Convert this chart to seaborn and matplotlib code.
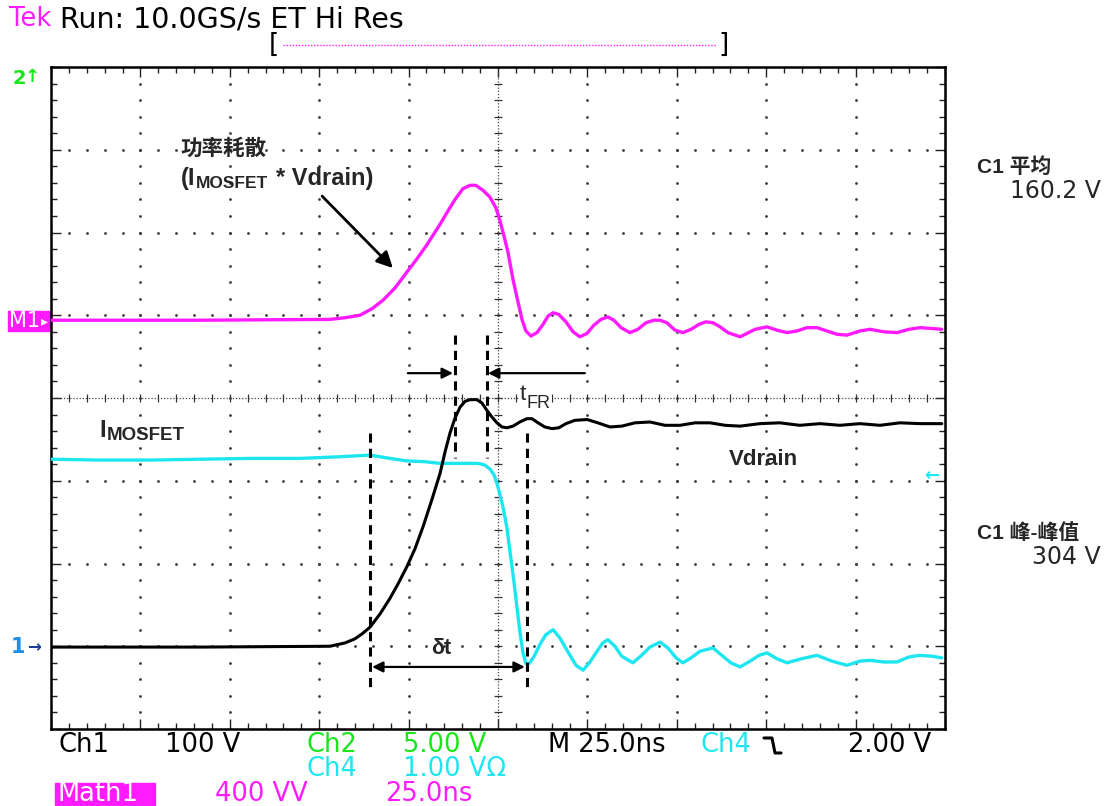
import numpy as np
import matplotlib
matplotlib.use("Agg")
import matplotlib.pyplot as plt
from matplotlib.lines import Line2D
from matplotlib.patches import Rectangle
import seaborn as sns

# ---------------- data (time in ns, 25 ns/div; amplitude in screen divisions, 0 = bottom) -------------
power_t = [0, 41.7, 78.0, 82.2, 86.4, 89.8, 92.8, 96.2, 99.5, 102.3, 105.1, 108.8, 111.0, 113.0,
           115.2, 117.2, 118.8, 120.8, 122.7, 124.4, 125.5, 126.6, 127.8, 129.2, 130.6, 131.7,
           132.8, 134.2, 135.9, 137.6, 139.0, 140.4, 142.0, 144.0, 146.0, 147.9, 149.9, 151.8,
           153.8, 155.7, 157.4, 159.4, 161.9, 164.1, 166.4, 168.6, 170.3, 172.2, 174.5, 176.7,
           179.0, 181.2, 183.1, 185.1, 187.1, 189.3, 192.7, 194.6, 196.9, 200.2, 203.0, 205.8,
           208.6, 211.4, 214.2, 217.0, 219.8, 222.6, 226.2, 229.0, 232.9, 236.6, 239.9, 243.0,
           246.3, 249.1]
power_v = [4.94, 4.94, 4.95, 4.97, 5.00, 5.08, 5.18, 5.33, 5.52, 5.68, 5.85, 6.10, 6.26, 6.40,
           6.53, 6.57, 6.57, 6.51, 6.43, 6.30, 6.15, 5.97, 5.76, 5.43, 5.16, 4.95,
           4.81, 4.75, 4.79, 4.89, 4.99, 5.03, 5.01, 4.92, 4.80, 4.74, 4.78, 4.88,
           4.95, 4.98, 4.94, 4.85, 4.79, 4.83, 4.91, 4.94, 4.94, 4.91, 4.82, 4.79,
           4.83, 4.89, 4.92, 4.91, 4.86, 4.79, 4.74, 4.78, 4.83, 4.86, 4.82, 4.79,
           4.81, 4.85, 4.85, 4.81, 4.77, 4.76, 4.81, 4.83, 4.80, 4.79, 4.83, 4.85,
           4.84, 4.83]

vdrain_t = [0, 41.7, 78.0, 82.2, 85.0, 87.0, 89.2, 92.0, 94.8, 97.0, 99.5, 101.8, 104.0, 106.5,
            108.8, 110.2, 111.6, 113.0, 114.4, 115.8, 117.2, 119.1, 120.5, 121.9, 123.3, 124.7,
            126.1, 127.5, 129.2, 131.1, 133.1, 134.5, 136.2, 138.1, 140.1, 142.0, 144.0, 146.5,
            149.9, 152.9, 156.3, 159.6, 163.3, 167.5, 171.7, 175.9, 180.1, 184.3, 188.5, 192.7,
            198.2, 203.8, 209.4, 215.0, 220.6, 226.2, 231.8, 237.4, 243.0, 249.1]
vdrain_v = [0.99, 0.99, 1.00, 1.04, 1.09, 1.15, 1.23, 1.39, 1.58, 1.75, 1.96, 2.18, 2.44, 2.77,
            3.09, 3.35, 3.58, 3.76, 3.89, 3.96, 3.98, 3.98, 3.94, 3.85, 3.77, 3.70,
            3.65, 3.64, 3.66, 3.71, 3.75, 3.75, 3.70, 3.65, 3.63, 3.64, 3.69, 3.73,
            3.74, 3.70, 3.65, 3.66, 3.70, 3.71, 3.67, 3.67, 3.70, 3.70, 3.67, 3.66,
            3.69, 3.70, 3.67, 3.69, 3.67, 3.69, 3.67, 3.70, 3.69, 3.69]

imos_t = [0, 13.7, 27.7, 41.7, 55.6, 69.6, 80.8, 89.2, 94.8, 99.5, 104.6, 108.8, 114.4, 119.4,
          121.3, 122.8, 123.9, 124.7, 125.5, 126.4, 127.5, 128.3, 129.4, 130.3, 131.1, 132.0,
          132.8, 133.7, 135.0, 136.7, 138.4, 140.4, 142.3, 144.6, 146.8, 148.8, 150.7, 152.7,
          154.3, 155.7, 157.7, 159.6, 162.7, 164.9, 167.5, 170.3, 172.5, 174.8, 176.7, 179.0,
          181.5, 185.1, 187.6, 190.1, 192.7, 195.5, 198.0, 200.2, 203.0, 205.8, 210.0, 214.2,
          218.4, 222.6, 226.2, 229.0, 232.9, 236.6, 239.9, 243.0, 246.3, 249.1]
imos_v = [3.26, 3.25, 3.25, 3.26, 3.27, 3.27, 3.29, 3.31, 3.27, 3.24, 3.23, 3.21, 3.21, 3.21,
          3.19, 3.14, 3.07, 2.97, 2.84, 2.68, 2.43, 2.16, 1.80, 1.47, 1.18, 0.92,
          0.79, 0.79, 0.87, 1.02, 1.14, 1.20, 1.10, 0.93, 0.77, 0.71, 0.81, 0.94,
          1.04, 1.08, 1.00, 0.88, 0.80, 0.88, 0.99, 1.05, 0.98, 0.86, 0.80, 0.86,
          0.94, 0.98, 0.89, 0.80, 0.75, 0.82, 0.89, 0.92, 0.85, 0.80, 0.85, 0.89,
          0.82, 0.77, 0.82, 0.83, 0.81, 0.81, 0.87, 0.89, 0.88, 0.86]

header_tek = "Tek"
header_run = "Run: 10.0GS/s ET Hi Res"
footer_row1 = [("Ch1", "black"), ("100 V", "black"), ("Ch2", "green"), ("5.00 V", "green"),
               ("M 25.0ns", "black"), ("Ch4", "cyan"), ("2.00 V", "black")]
footer_row2 = [("Ch4", "cyan"), ("1.00 VΩ", "cyan")]
footer_row3 = [("400 VV", "magenta"), ("25.0ns", "magenta")]
meas_labels = ["C1 平均", "C1 峰-峰值"]
meas_values = ["160.2 V", "304 V"]

MAG = "#ff1aff"
CYAN = "#1ee6f0"
GREEN = "#19e619"
colors = {"black": "black", "cyan": CYAN, "green": GREEN, "magenta": MAG}

# ---------------- figure ----------------
sns.set_style("white")
plt.rcParams['font.family'] = ['DejaVu Sans', 'Noto Sans CJK SC']

W, H = 1106, 806
fig = plt.figure(figsize=(W / 100, H / 100), dpi=100)
fig.patch.set_facecolor("white")
L, R, T, B = 51, 945, 67, 729
ax = fig.add_axes([L / W, 1 - B / H, (R - L) / W, (B - T) / H])
ax.set_facecolor("white")
ax.set_xlim(0, 250)
ax.set_ylim(0, 8)


def fp(px, py):
    return px / W, 1 - py / H


# graticule
xs_minor = np.arange(0, 250.01, 5)
ys_minor = np.arange(0, 8.001, 0.2)
dot = dict(ls="none", marker="o", ms=2.0, mew=0, color="#3a3a3a", zorder=1)
for k in range(1, 10):
    if k == 5:
        continue
    ax.plot(np.full_like(ys_minor, k * 25.0), ys_minor, **dot)
for j in range(1, 8):
    if j == 4:
        continue
    ax.plot(xs_minor, np.full_like(xs_minor, float(j)), **dot)
ax.axvline(125, ls=(0, (1, 1.5)), lw=0.9, color="#444444", zorder=1)
ax.axhline(4, ls=(0, (1, 1.5)), lw=0.9, color="#444444", zorder=1)
ax.plot(np.full_like(ys_minor, 125.0), ys_minor, ls="none", marker="_", ms=6, mew=0.9, color="#333333", zorder=1)
ax.plot(xs_minor, np.full_like(xs_minor, 4.0), ls="none", marker="|", ms=6, mew=0.9, color="#333333", zorder=1)

ax.set_xticks(np.arange(0, 251, 25))
ax.set_xticks(xs_minor, minor=True)
ax.set_yticks(np.arange(0, 9, 1))
ax.set_yticks(ys_minor, minor=True)
ax.tick_params(which="both", direction="in", top=True, right=True, bottom=True, left=True,
               labelbottom=False, labelleft=False, color="#222222")
ax.tick_params(which="major", length=7, width=1.0)
ax.tick_params(which="minor", length=4, width=1.0)
for s in ax.spines.values():
    s.set_linewidth(1.8)
    s.set_color("black")
    s.set_visible(True)

# traces
sns.lineplot(x=imos_t, y=imos_v, color=CYAN, lw=2.4, ax=ax, sort=False, estimator=None, zorder=3)
sns.lineplot(x=vdrain_t, y=vdrain_v, color="black", lw=2.2, ax=ax, sort=False, estimator=None, zorder=4)
sns.lineplot(x=power_t, y=power_v, color=MAG, lw=2.4, ax=ax, sort=False, estimator=None, zorder=3)

# dashed markers
dash = dict(ls=(0, (3, 2)), lw=2.2, color="black", zorder=5)
ax.plot([89.2, 89.2], [3.58, 0.47], **dash)
ax.plot([133.1, 133.1], [3.58, 0.47], **dash)
ax.plot([113.0, 113.0], [4.76, 3.27], **dash)
ax.plot([121.9, 121.9], [4.76, 3.27], **dash)

arr = dict(arrowstyle="-|>", lw=1.6, color="black", mutation_scale=16, shrinkA=0, shrinkB=0)
ax.annotate("", xy=(112.4, 4.30), xytext=(99.8, 4.30), arrowprops=arr)
ax.annotate("", xy=(122.2, 4.30), xytext=(149.3, 4.30), arrowprops=arr)
ax.annotate("", xy=(132.5, 0.75), xytext=(89.8, 0.75),
            arrowprops=dict(arrowstyle="<|-|>", lw=1.6, color="black", mutation_scale=16, shrinkA=0, shrinkB=0))
ax.annotate("", xy=(95.6, 5.57), xytext=(75.8, 6.44),
            arrowprops=dict(arrowstyle="-|>", lw=2.0, color="black", mutation_scale=24, shrinkA=0, shrinkB=0))

# annotation texts
ann_font = ['Liberation Sans', 'Noto Sans CJK SC']
wbox = dict(facecolor="white", edgecolor="none", pad=0.5)
fig.text(*fp(180, 149), "功率耗散", fontsize=15.5, fontweight="bold", family=ann_font, va="center")
fig.text(*fp(181, 178), "(I", fontsize=17, fontweight="bold", family=ann_font, va="center")
fig.text(*fp(196, 183), "MOSFET", fontsize=12.5, fontweight="bold", family=ann_font, va="center")
fig.text(*fp(276, 178), "* Vdrain)", fontsize=17, fontweight="bold", family=ann_font, va="center")
fig.text(*fp(99, 430), "I", fontsize=17, fontweight="bold", family=ann_font, va="center")
fig.text(*fp(107, 436), "MOSFET", fontsize=13.5, fontweight="bold", family=ann_font, va="center")
fig.text(*fp(729, 460), "Vdrain", fontsize=16, fontweight="bold", family=ann_font, va="center")
fig.text(*fp(520, 395), "t", fontsize=16, family=ann_font, va="center", bbox=wbox)
fig.text(*fp(527, 403), "FR", fontsize=13, family=ann_font, va="center", bbox=wbox)
fig.text(*fp(431, 648), "δt", fontsize=15.5, fontweight="bold", family=ann_font, va="center")

# header
fig.text(*fp(9, 19), header_tek, fontsize=18.5, color=MAG, va="center")
fig.text(*fp(60, 19), header_run, fontsize=20.5, color="black", va="center")
fig.text(*fp(269, 45), "[", fontsize=19, color="black", va="center")
fig.text(*fp(718, 45), "]", fontsize=19, color="black", va="center")
x0, y0 = fp(283, 45)
x1, _ = fp(716, 45)
fig.add_artist(Line2D([x0, x1], [y0, y0], ls=(0, (1, 1.2)), lw=1.0, color=MAG, transform=fig.transFigure))

# left-side channel markers
fig.text(*fp(12, 78), "2", fontsize=14, color=GREEN, va="center", fontweight="bold")
fig.text(*fp(25, 77), "↑", fontsize=13, color=GREEN, va="center", fontweight="bold")
rx, ry = fp(8, 331)
fig.add_artist(Rectangle((rx, ry), 42 / W, 20 / H, color=MAG, transform=fig.transFigure, zorder=0))
fig.text(*fp(9, 321), "M1", fontsize=15, color="white", va="center")
fig.text(*fp(41, 321), "▸", fontsize=10, color="white", va="center")
fig.text(*fp(11, 647), "1", fontsize=15, color="#1c8fe8", va="center", fontweight="bold")
fig.text(*fp(27, 647), "→", fontsize=12, color="#1a3a9a", va="center", fontweight="bold")
fig.text(*fp(924, 476), "←", fontsize=13, color=CYAN, va="center", fontweight="bold")

# footer
row1_x = [58, 165, 307, 403, 548, 700, 848]
for (s, c), x in zip(footer_row1, row1_x):
    fig.text(*fp(x, 745), s, fontsize=18.5, color=colors[c], va="center")
ex = [764, 772, 775, 781]
ey = [738, 738, 753, 753]
fig.add_artist(Line2D([e / W for e in ex], [1 - e / H for e in ey], lw=2.2, color="black",
                      transform=fig.transFigure))
for (s, c), x in zip(footer_row2, [307, 403]):
    fig.text(*fp(x, 769), s, fontsize=18.5, color=colors[c], va="center")
mx, my = fp(55, 805)
fig.add_artist(Rectangle((mx, my), 100 / W, 22 / H, color=MAG, transform=fig.transFigure, zorder=0))
fig.text(*fp(58, 794), "Math1", fontsize=18.5, color="white", va="center")
for (s, c), x in zip(footer_row3, [215, 385]):
    fig.text(*fp(x, 794), s, fontsize=18.5, color=colors[c], va="center")

# measurements at right
for lab, val, y in zip(meas_labels, meas_values, [167, 533]):
    fig.text(*fp(977, y), lab, fontsize=15, fontweight="bold", family=ann_font, va="center")
    fig.text(*fp(1101, y + 24), val, fontsize=17, ha="right", va="center")

fig.savefig("out.png", dpi=100, facecolor="white")
